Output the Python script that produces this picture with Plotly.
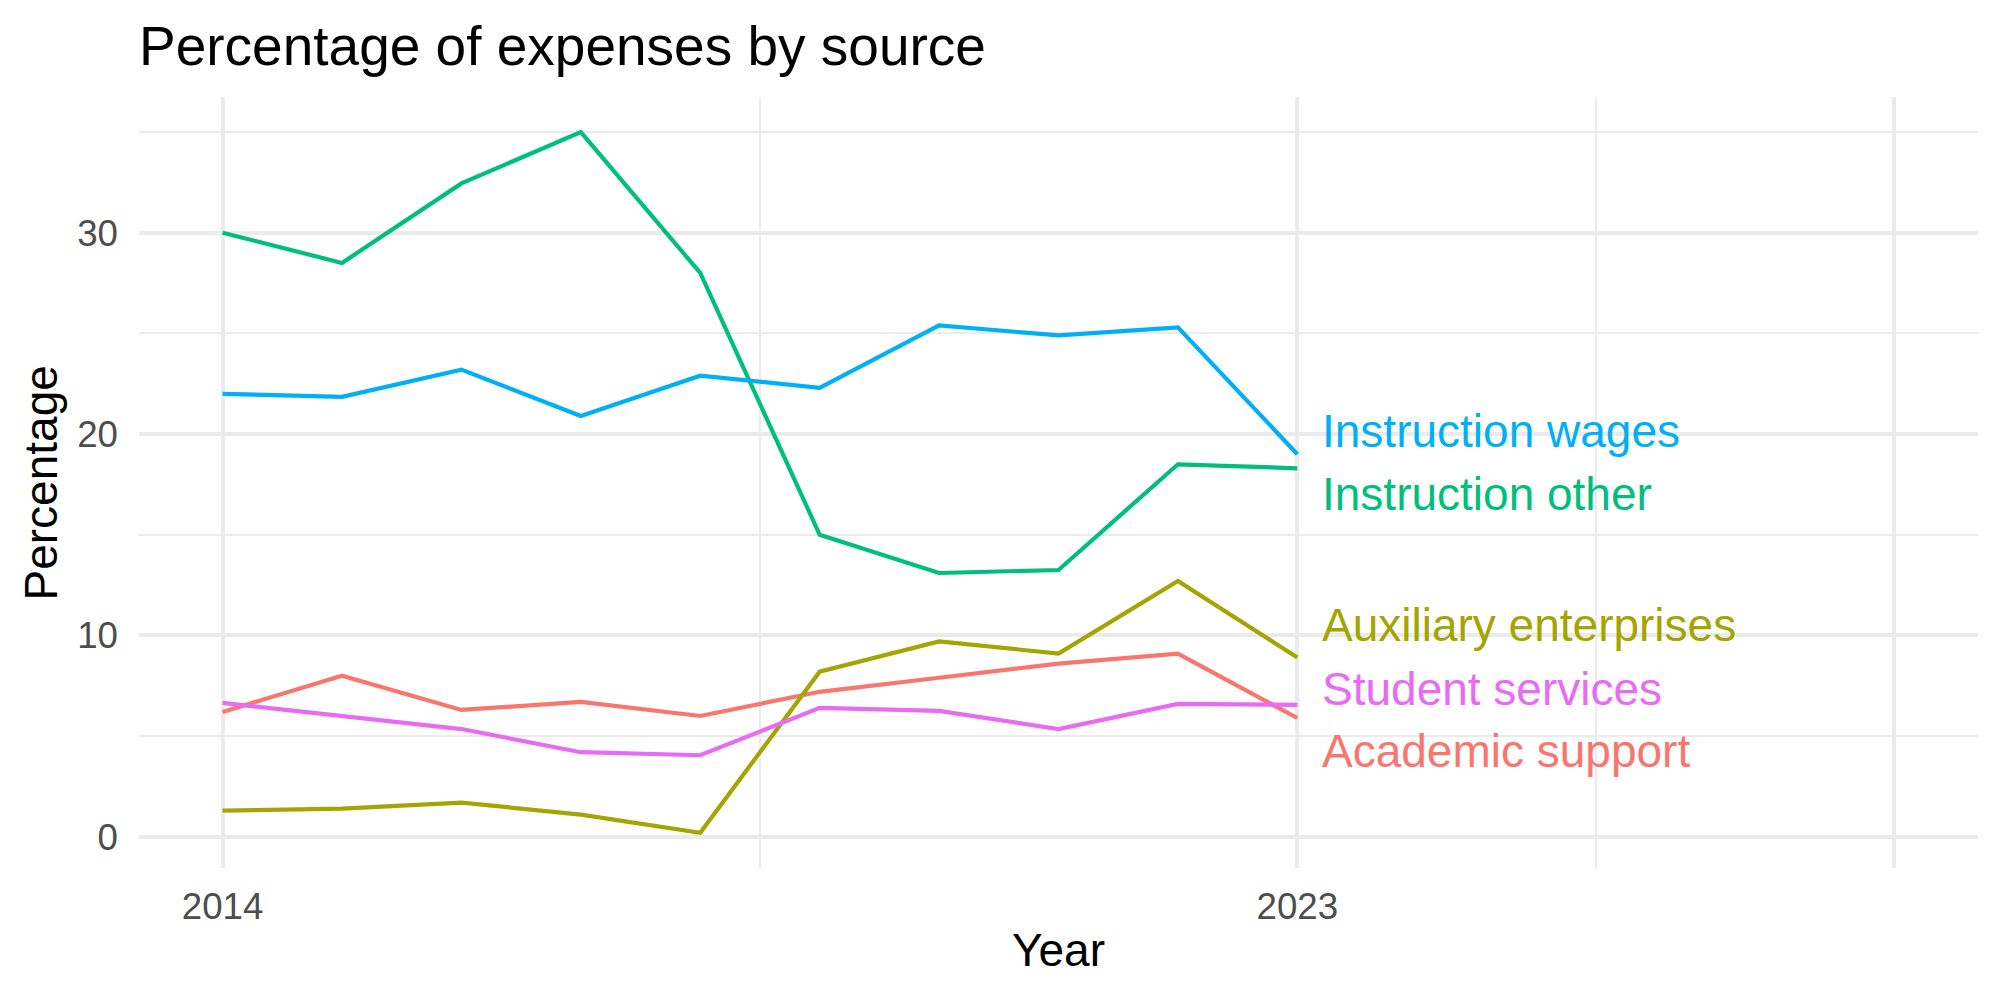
import plotly.graph_objects as go

years = [2014, 2015, 2016, 2017, 2018, 2019, 2020, 2021, 2022, 2023]

academic_support = [6.2, 8.0, 6.3, 6.7, 6.0, 7.2, 7.9, 8.6, 9.1, 5.9]
auxiliary_enterprises = [1.3, 1.4, 1.7, 1.1, 0.2, 8.2, 9.7, 9.1, 12.7, 8.9]
instruction_other = [30.0, 28.5, 32.45, 35.0, 28.0, 15.0, 13.1, 13.25, 18.5, 18.3]
instruction_wages = [22.0, 21.85, 23.2, 20.9, 22.9, 22.3, 25.4, 24.9, 25.3, 19.0]
student_services = [6.65, 6.0, 5.35, 4.2, 4.05, 6.4, 6.25, 5.35, 6.6, 6.55]

series_names = ["Academic support", "Auxiliary enterprises", "Instruction other",
                "Instruction wages", "Student services"]
series_values = [academic_support, auxiliary_enterprises, instruction_other,
                 instruction_wages, student_services]
colors = ["#F8766D", "#A3A500", "#00BF7D", "#00B0F6", "#E76BF3"]

# repelled label positions (y, in data units) at the right end of the lines
label_y = [4.27, 10.53, 17.04, 20.17, 7.35]
label_x = 2023.19

x_tickvals = [2014, 2023, 2028]
x_ticktext = ["2014", "2023", ""]
x_minor = [2018.5, 2025.5]
y_tickvals = [0, 10, 20, 30]
y_minor = [5, 15, 25, 35]

FONT = "Liberation Sans, Arial, Helvetica, sans-serif"

fig = go.Figure()
for name, vals, col in zip(series_names, series_values, colors):
    fig.add_trace(go.Scatter(x=years, y=vals, mode="lines", name=name,
                             line=dict(color=col, width=4.2), showlegend=False))

for name, ly, col in zip(series_names, label_y, colors):
    fig.add_annotation(x=label_x, y=ly, xref="x", yref="y", text=name,
                       showarrow=False, xanchor="left", yanchor="middle",
                       font=dict(family=FONT, size=46, color=col))

# axis titles
fig.add_annotation(x=0.5, y=-0.1064, xref="paper", yref="paper", text="Year",
                   showarrow=False, xanchor="center", yanchor="middle",
                   font=dict(family=FONT, size=46, color="black"))
fig.add_annotation(x=-0.0533, y=0.5, xref="paper", yref="paper", text="Percentage",
                   showarrow=False, xanchor="center", yanchor="middle", textangle=-90,
                   font=dict(family=FONT, size=46, color="black"))

fig.update_layout(
    width=2000, height=1000,
    margin=dict(l=139, r=22, t=97, b=132),
    paper_bgcolor="white", plot_bgcolor="white",
    title=dict(text="Percentage of expenses by source", x=0, xref="paper",
               xanchor="left", y=0.954, yref="container", yanchor="middle",
               font=dict(family=FONT, size=55, color="black")),
    font=dict(family=FONT),
    xaxis=dict(range=[2013.3, 2028.7], tickmode="array", tickvals=x_tickvals,
               ticktext=x_ticktext, showgrid=True, gridcolor="#EBEBEB", gridwidth=4,
               zeroline=False, showline=False, ticks="", ticklabelstandoff=13,
               tickfont=dict(family=FONT, size=36.7, color="#4D4D4D"),
               minor=dict(tickvals=x_minor, showgrid=True, gridcolor="#EBEBEB",
                          gridwidth=2, ticks="")),
    yaxis=dict(range=[-1.55, 36.74], tickmode="array", tickvals=y_tickvals,
               showgrid=True, gridcolor="#EBEBEB", gridwidth=4,
               zeroline=False, showline=False, ticks="", ticklabelstandoff=20,
               tickfont=dict(family=FONT, size=36.7, color="#4D4D4D"),
               minor=dict(tickvals=y_minor, showgrid=True, gridcolor="#EBEBEB",
                          gridwidth=2, ticks="")),
)

fig.write_html("out.html")
